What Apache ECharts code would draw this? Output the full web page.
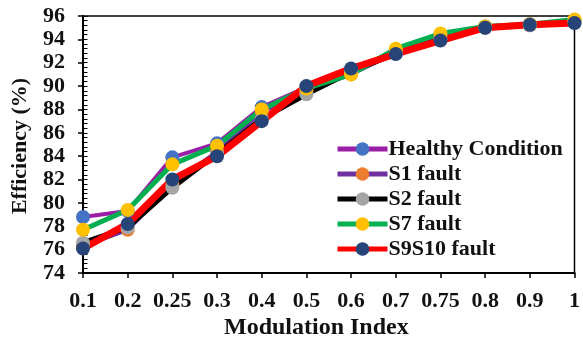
<!DOCTYPE html>
<html>
<head>
<meta charset="utf-8">
<script src="https://cdn.jsdelivr.net/npm/echarts@6/dist/echarts.min.js"></script>
<style>
  html, body { margin: 0; padding: 0; background: #fff; }
  #chart { width: 583px; height: 339px; }
</style>
</head>
<body>
<div id="chart"></div>
<script>
// Modulation index values (category axis)
const modulationIndex = ['0.1', '0.2', '0.25', '0.3', '0.4', '0.5', '0.6', '0.7', '0.75', '0.8', '0.9', '1'];

// Efficiency (%) per operating condition
const healthy = [78.8, 79.3, 83.9, 85.1, 88.2, 89.9, 91.3, 93.0, 94.4, 95.1, 95.3, 95.6];
const s1Fault = [76.3, 77.7, 81.6, 84.4, 87.8, 89.6, 91.0, 92.9, 94.2, 95.0, 95.2, 95.5];
const s2Fault = [76.6, 77.9, 81.3, 84.2, 87.2, 89.3, 91.2, 92.8, 94.0, 95.0, 95.2, 95.4];
const s7Fault = [77.7, 79.4, 83.3, 84.9, 88.0, 89.8, 91.0, 93.2, 94.5, 95.1, 95.3, 95.7];
const s9s10Fault = [76.1, 78.2, 82.0, 84.0, 87.0, 90.0, 91.5, 92.75, 93.9, 95.0, 95.25, 95.4];

// Y tick range
const yMin = 74;
const yMax = 96;
const yStep = 2;

const FONT = '"Liberation Serif", "Times New Roman", serif';
const GRID_LEFT = 83;
const GRID_RIGHT = 8;
const CHART_W = 583;

function makeSeries(name, data, lineColor, markerColor, width) {
  return {
    name: name,
    type: 'line',
    data: data,
    symbol: 'circle',
    symbolSize: 14,
    lineStyle: { color: lineColor, width: width },
    itemStyle: { color: markerColor, borderWidth: 0 },
    emphasis: { disabled: true },
    animation: false
  };
}

const chart = echarts.init(document.getElementById('chart'), null, { renderer: 'canvas' });

chart.setOption({
  backgroundColor: '#ffffff',
  animation: false,
  textStyle: { fontFamily: FONT },
  grid: {
    left: GRID_LEFT, right: GRID_RIGHT, top: 16, bottom: 66,
    show: true, borderColor: '#000', borderWidth: 1.5, backgroundColor: 'transparent'
  },
  legend: {
    orient: 'vertical',
    left: 330, top: 133,
    itemWidth: 50, itemHeight: 17, itemGap: 3,
    lineStyle: { width: 5 },
    textStyle: { fontFamily: FONT, fontWeight: 'bold', fontSize: 22, color: '#111', padding: [0, 0, 0, -4] },
    data: ['Healthy Condition', 'S1 fault', 'S2 fault', 'S7 fault', 'S9S10 fault']
  },
  xAxis: {
    type: 'category',
    data: modulationIndex,
    boundaryGap: false,
    axisLine: { lineStyle: { color: '#000', width: 2 } },
    axisTick: { show: true, alignWithLabel: true, interval: 0, length: 5, lineStyle: { color: '#000', width: 1.5 } },
    axisLabel: { color: '#111', fontFamily: FONT, fontWeight: 'bold', fontSize: 22, margin: 17, interval: 0 },
    splitLine: { show: false }
  },
  yAxis: [
    {
      type: 'value',
      position: 'left',
      min: yMin, max: yMax, interval: yStep,
      axisLine: { show: true, lineStyle: { color: '#000', width: 2 } },
      axisTick: { show: true, length: 5, lineStyle: { color: '#000', width: 1.5 } },
      axisLabel: { color: '#111', fontFamily: FONT, fontWeight: 'bold', fontSize: 22, margin: 18 },
      splitLine: { show: false }
    },
    {
      // Second scale shifted onto the left edge: its outward ticks point into the plot
      type: 'value',
      position: 'right',
      offset: -(CHART_W - GRID_LEFT - GRID_RIGHT),
      min: yMin, max: yMax, interval: yStep,
      axisLine: { show: false },
      axisLabel: { show: false },
      axisTick: { show: true, inside: false, length: 5, lineStyle: { color: '#000', width: 1 } },
      minorTick: { show: true, splitNumber: 5, length: 5, lineStyle: { color: '#000', width: 1 } },
      splitLine: { show: false }
    }
  ],
  graphic: [
    {
      type: 'text',
      left: 224, top: 316,
      style: { text: 'Modulation Index', font: 'bold 24px ' + FONT, fill: '#111' }
    },
    {
      type: 'text',
      x: 20, y: 146,
      rotation: Math.PI / 2,
      style: { text: 'Efficiency (%)', font: 'bold 22px ' + FONT, fill: '#111', align: 'center', verticalAlign: 'middle' }
    }
  ],
  series: [
    makeSeries('Healthy Condition', healthy, '#9a1fa6', '#4472c4', 4),
    makeSeries('S1 fault', s1Fault, '#7030a0', '#ed7d31', 4),
    makeSeries('S2 fault', s2Fault, '#000000', '#a5a5a5', 5),
    makeSeries('S7 fault', s7Fault, '#00b050', '#ffc000', 5),
    makeSeries('S9S10 fault', s9s10Fault, '#ff0000', '#264478', 7)
  ]
});
</script>
</body>
</html>
